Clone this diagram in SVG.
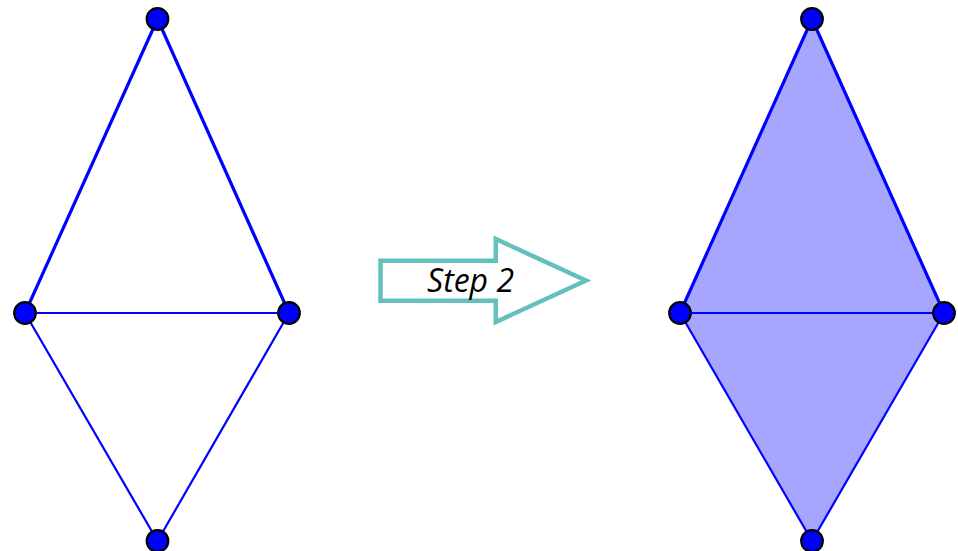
<svg xmlns="http://www.w3.org/2000/svg" width="958" height="551" viewBox="0 0 958 551">
<style>
.thick{stroke:#0000ff;stroke-width:3.2;fill:none;stroke-linecap:round}
.thin{stroke:#0000ff;stroke-width:2.2;fill:none;stroke-linecap:round}
.pt{fill:#0000ff;stroke:#000;stroke-width:2.2}
.fill{fill:#a6a6ff;stroke:none}
.arrow{fill:#fff;stroke:#63c0bc;stroke-width:4.5;stroke-linejoin:miter}
.lbl{font-family:"Open Sans","Liberation Sans",sans-serif;font-style:italic;font-size:32px;fill:#000}
</style>
<g id="connectors">
<polygon class="fill" points="812,19 680,313 812,541 944,313"/>
<line class="thick" x1="157.5" y1="19" x2="25" y2="313"/>
<line class="thick" x1="157.5" y1="19" x2="289" y2="313"/>
<line class="thin" x1="25" y1="313" x2="289" y2="313"/>
<line class="thin" x1="25" y1="313" x2="157.5" y2="541"/>
<line class="thin" x1="289" y1="313" x2="157.5" y2="541"/>
<line class="thick" x1="812" y1="19" x2="680" y2="313"/>
<line class="thick" x1="812" y1="19" x2="944" y2="313"/>
<line class="thin" x1="680" y1="313" x2="944" y2="313"/>
<line class="thin" x1="680" y1="313" x2="812" y2="541"/>
<line class="thin" x1="944" y1="313" x2="812" y2="541"/>
</g>
<g id="arrow">
<polygon class="arrow" points="380.5,260.8 495.8,260.8 495.8,239 586,280.5 495.8,322 495.8,300.8 380.5,300.8"/>
<text class="lbl" x="427" y="292">Step 2</text>
</g>
<g id="n1"><circle class="pt" cx="157.5" cy="19" r="10.8"/></g>
<g id="n2"><circle class="pt" cx="25" cy="313" r="10.8"/></g>
<g id="n3"><circle class="pt" cx="289" cy="313" r="10.8"/></g>
<g id="n4"><circle class="pt" cx="157.5" cy="541" r="10.8"/></g>
<g id="n5"><circle class="pt" cx="812" cy="19" r="10.8"/></g>
<g id="n6"><circle class="pt" cx="680" cy="313" r="10.8"/></g>
<g id="n7"><circle class="pt" cx="944" cy="313" r="10.8"/></g>
<g id="n8"><circle class="pt" cx="812" cy="541" r="10.8"/></g>
</svg>
